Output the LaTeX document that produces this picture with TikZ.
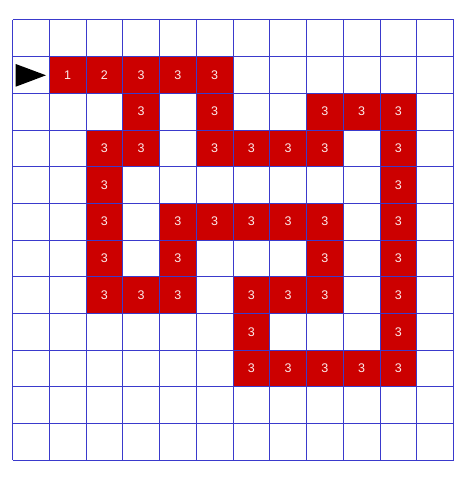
\documentclass[tikz,border=0pt]{standalone}
\usepackage{fontspec}
\setmainfont{Liberation Sans}
\usepackage{xcolor}
\usepackage{tikz}
\definecolor{CellRed}{HTML}{CC0000}
\definecolor{GridBlue}{HTML}{3A3ACC}

\begin{document}
\begin{tikzpicture}[
    x=1pt, y=-1pt,
    cell/.style={fill=CellRed, minimum width=36.75pt, minimum height=36.67pt,
      inner sep=0pt, text=white!92!CellRed, font=\fontsize{12.5}{12.5}\selectfont},
    gridline/.style={draw=GridBlue, line width=1pt}
  ]
    \useasboundingbox (0,0) rectangle (471,478);

    % path cells: row/column/value
    \foreach \r/\c/\v in {1/1/1, 1/2/2, 1/3/3, 1/4/3, 1/5/3,
        2/3/3, 2/5/3, 2/8/3, 2/9/3, 2/10/3,
        3/2/3, 3/3/3, 3/5/3, 3/6/3, 3/7/3, 3/8/3, 3/10/3,
        4/2/3, 4/10/3,
        5/2/3, 5/4/3, 5/5/3, 5/6/3, 5/7/3, 5/8/3, 5/10/3,
        6/2/3, 6/4/3, 6/8/3, 6/10/3,
        7/2/3, 7/3/3, 7/4/3, 7/6/3, 7/7/3, 7/8/3, 7/10/3,
        8/6/3, 8/10/3,
        9/6/3, 9/7/3, 9/8/3, 9/9/3, 9/10/3}
      \node[cell] (c\r-\c) at ({12.5+36.75*(\c+0.5)}, {20+36.67*(\r+0.5)}) {\v};

    % grid
    \foreach \i in {0,...,12} {
      \draw[gridline] ({12.5+36.75*\i}, 20) -- ({12.5+36.75*\i}, 460);
      \draw[gridline] (12.5, {20+36.67*\i}) -- (453.5, {20+36.67*\i});
    }

    % start marker
    \fill[black] (15.7,64) -- (46,75.3) -- (15.7,86.7) -- cycle;
  \end{tikzpicture}
\end{document}
